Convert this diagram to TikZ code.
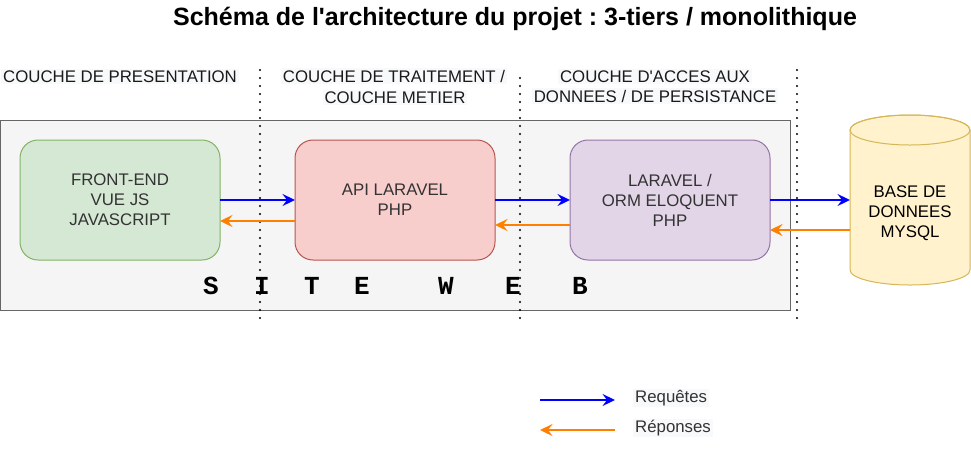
\documentclass[tikz,border=0pt]{standalone}
\usepackage{fontspec}
\setmainfont{Liberation Sans}
\setmonofont{Liberation Mono}
\usetikzlibrary{arrows.meta}
\frenchspacing
\definecolor{sitefill}{HTML}{F5F5F5}
\definecolor{sitestroke}{HTML}{666666}
\definecolor{greenfill}{HTML}{D5E8D4}
\definecolor{greenstroke}{HTML}{82B366}
\definecolor{redfill}{HTML}{F8CECC}
\definecolor{redstroke}{HTML}{B85450}
\definecolor{purplefill}{HTML}{E1D5E7}
\definecolor{purplestroke}{HTML}{9673A6}
\definecolor{dbfill}{HTML}{FFF2CC}
\definecolor{dbstroke}{HTML}{D6B656}
\definecolor{reqblue}{HTML}{0000FF}
\definecolor{reporange}{HTML}{FF8000}
\definecolor{labelbg}{HTML}{F8F9FA}
\definecolor{labeltext}{HTML}{1A1A1A}
\definecolor{boxtext}{HTML}{333333}
\tikzset{
  txtfont/.style={font=\fontsize{16.8}{20}\selectfont},
  lbl/.style={txtfont, text=labeltext, fill=labelbg, inner xsep=2pt, inner ysep=1.5pt, anchor=base},
  layerbox/.style={txtfont, text=boxtext, align=center, rounded corners=18pt, line width=1pt,
    minimum width=200pt, minimum height=120pt, inner sep=0pt, outer sep=0pt},
  req/.style={draw=reqblue, line width=2.2pt, -{Stealth[length=12.5pt,width=12pt,inset=4.5pt]}},
  rep/.style={draw=reporange, line width=2.2pt, -{Stealth[length=12.5pt,width=12pt,inset=4.5pt]}},
  sepline/.style={draw=black, line width=2.2pt, line cap=round, dash pattern=on 0pt off 8pt},
  sitel/.style={font=\fontsize{26}{26}\ttfamily\bfseries, text=black, inner sep=0pt},
}
\begin{document}
\begin{tikzpicture}[x=1pt,y=-1pt]
\useasboundingbox (0,0) rectangle (971,451);

% title
\node[font=\fontsize{25}{30}\selectfont\bfseries, anchor=base, inner sep=0pt] (title) at (515,25)
  {Schéma de l\textquotesingle architecture du projet : 3-tiers / monolithique};

% site web container
\node[draw=sitestroke, fill=sitefill, line width=1pt, anchor=north west,
      minimum width=789.5pt, minimum height=190pt, inner sep=0pt, outer sep=0pt] (site) at (0.5,120) {};

% layer boxes
\node[layerbox, draw=greenstroke, fill=greenfill] (front) at (120,200) {FRONT-END\\VUE JS\\JAVASCRIPT};
\node[layerbox, draw=redstroke, fill=redfill] (api) at (395,200) {API LARAVEL\\PHP};
\node[layerbox, draw=purplestroke, fill=purplefill] (meta) at (670,200) {LARAVEL /\\ORM ELOQUENT\\PHP};

% database cylinder
\node[minimum width=120pt, minimum height=170pt, inner sep=0pt, outer sep=0pt] (db) at (910,200) {};
\path[draw=dbstroke, fill=dbfill, line width=1pt]
  ([yshift=-15pt]db.north west) -- ([yshift=15pt]db.south west)
  arc[start angle=180, end angle=360, x radius=60pt, y radius=15pt]
  -- ([yshift=-15pt]db.north east)
  arc[start angle=0, end angle=180, x radius=60pt, y radius=15pt] -- cycle;
\draw[dbstroke, line width=1pt] ([yshift=-15pt]db.north) ellipse [x radius=60pt, y radius=15pt];
\node[txtfont, text=black, align=center, inner sep=0pt] (dbtxt) at (910,213) {BASE DE\\DONNEES\\MYSQL};

% SITE WEB letters
\foreach \ch/\xx [count=\i] in {S/211,I/262,T/312,E/362,W/446,E/513,B/580}
  \node[sitel] (sw\i) at (\xx,286) {\ch};

% layer labels
\node[lbl, anchor=base west] (lpres) at (1,82) {COUCHE DE PRESENTATION};
\node[lbl] (ltrait1) at (394,82) {COUCHE DE TRAITEMENT /};
\node[lbl] (ltrait2) at (395,103) {COUCHE METIER};
\node[lbl] (lacc1) at (655,82) {COUCHE D\textquotesingle ACCES AUX};
\node[lbl] (lacc2) at (655,102) {DONNEES / DE PERSISTANCE};

% separators
\coordinate (s1t) at (260,70);  \coordinate (s1b) at (260,320);
\coordinate (s2t) at (520,78);  \coordinate (s2b) at (520,320);
\coordinate (s3t) at (797,70);  \coordinate (s3b) at (797,322);
\draw[sepline] (s1t) -- (s1b);
\draw[sepline] (s2t) -- (s2b);
\draw[sepline] (s3t) -- (s3b);

% requests / responses
\draw[req] (front.east) -- (api.west);
\draw[rep] ([yshift=-21pt]api.west) -- ([yshift=-21pt]front.east);
\draw[req] (api.east) -- (meta.west);
\draw[rep] ([yshift=-25pt]meta.west) -- ([yshift=-25pt]api.east);
\draw[req] (meta.east) -- (db.west);
\draw[rep] ([yshift=-30pt]db.west) -- ([yshift=-30pt]meta.east);

% legend
\coordinate (lg1a) at (540,400); \coordinate (lg1b) at (615,400);
\coordinate (lg2a) at (615,430); \coordinate (lg2b) at (540,430);
\draw[req] (lg1a) -- (lg1b);
\draw[rep] (lg2a) -- (lg2b);
\node[lbl, anchor=base west, text=boxtext] (lreq) at (633,402.5) {Requêtes};
\node[lbl, anchor=base west, text=boxtext] (lrep) at (633,432.5) {Réponses};
\end{tikzpicture}
\end{document}
